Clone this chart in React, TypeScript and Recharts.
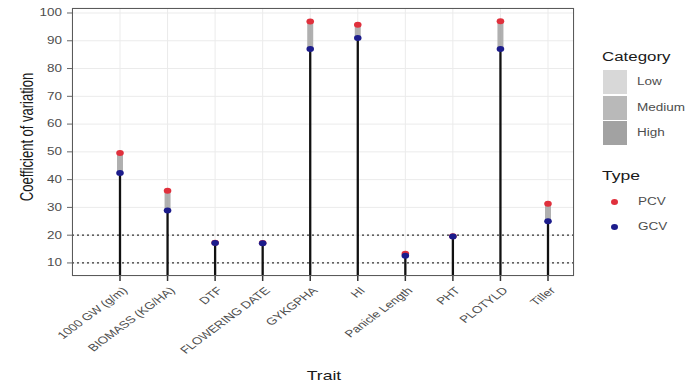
import React from 'react';
import {
  ComposedChart,
  Scatter,
  XAxis,
  YAxis,
  CartesianGrid,
  ReferenceLine,
} from 'recharts';

// Traits and coefficient of variation (%)
const traits = [
  '1000 GW (g/m)',
  'BIOMASS (KG/HA)',
  'DTF',
  'FLOWERING DATE',
  'GYKGPHA',
  'HI',
  'Panicle Length',
  'PHT',
  'PLOTYLD',
  'Tiller',
];
const pcv = [49.6, 36, 17.3, 17.2, 96.9, 95.8, 13.3, 19.6, 97, 31.3];
const gcv = [42.4, 28.9, 17.2, 17.1, 87, 91, 12.6, 19.5, 87, 25];
const category = ['High', 'High', 'Medium', 'Medium', 'High', 'High', 'Low', 'Medium', 'High', 'High'];

const yTicks = [10, 20, 30, 40, 50, 60, 70, 80, 90, 100];
const thresholds = [10, 20];
const yMin = 5.3;
const yMax = 101.8;

const categoryNames = ['Low', 'Medium', 'High'];
const categoryFill: Record<string, string> = {
  Low: '#d8d8d8',
  Medium: '#b9b9b9',
  High: '#a2a2a2',
};
const typeNames = ['PCV', 'GCV'];
const typeColor: Record<string, string> = { PCV: '#e0303c', GCV: '#1c1c8c' };

const data = traits.map((t, i) => ({ trait: t, pcv: pcv[i], gcv: gcv[i], cat: category[i] }));

// the source picture is stretched sideways, so text gets widened too
const SX = 1.35;
const font = 'Liberation Sans, Arial, sans-serif';

const XTick = ({ x, y, payload }: any) => {
  const ax = x + 1;
  const ay = y + 3;
  return (
    <text
      transform={`translate(${ax} ${ay}) scale(${SX} 1) rotate(-45)`}
      textAnchor="end"
      dominantBaseline="hanging"
      fill="#4d4d4d"
      fontSize={10}
      fontFamily={font}
    >
      {payload.value}
    </text>
  );
};

const YTick = ({ x, y, payload }: any) => (
  <text
    transform={`translate(${x - 3} ${y}) scale(${SX} 1)`}
    textAnchor="end"
    dominantBaseline="central"
    fill="#4d4d4d"
    fontSize={10}
    fontFamily={font}
  >
    {payload.value}
  </text>
);

const Dot = ({ cx, cy, fill }: any) =>
  cx == null ? null : <ellipse cx={cx} cy={cy} rx={3.8} ry={3} fill={fill} />;

const stretched = (cx: number, cy: number, size: number, color: string, text: string) => (
  <div
    key={text}
    style={{
      position: 'absolute',
      left: cx,
      top: cy,
      transform: `translateY(-50%) scaleX(${SX})`,
      transformOrigin: 'left center',
      fontSize: size,
      color,
      whiteSpace: 'nowrap',
      lineHeight: 1,
    }}
  >
    {text}
  </div>
);

export default function App() {
  return (
    <div
      style={{
        position: 'absolute',
        left: 0,
        top: 0,
        width: 696,
        height: 387,
        background: '#fff',
        fontFamily: font,
      }}
    >
      <ComposedChart
        width={696}
        height={387}
        data={data}
        margin={{ top: 8, right: 122, bottom: 21, left: 12 }}
      >
        <CartesianGrid stroke="#ebebeb" strokeWidth={1} />
        <XAxis
          dataKey="trait"
          type="category"
          padding={{ left: 48, right: 26 }}
          height={90}
          tick={<XTick />}
          tickLine={{ stroke: '#333', strokeWidth: 1.5 }}
          tickSize={5}
          axisLine={false}
          interval={0}
        />
        <YAxis
          type="number"
          domain={[yMin, yMax]}
          ticks={yTicks}
          allowDataOverflow
          width={60}
          tick={<YTick />}
          tickLine={{ stroke: '#666' }}
          tickSize={5}
          axisLine={false}
        />
        {thresholds.map((v) => (
          <ReferenceLine key={v} y={v} stroke="#333" strokeDasharray="2 3" strokeWidth={1.2} />
        ))}
        {data.map((d) => (
          <ReferenceLine
            key={`stem-${d.trait}`}
            segment={[
              { x: d.trait, y: yMin },
              { x: d.trait, y: d.gcv },
            ]}
            stroke="#111"
            strokeWidth={2.3}
          />
        ))}
        {data.map((d) => (
          <ReferenceLine
            key={`span-${d.trait}`}
            segment={[
              { x: d.trait, y: d.gcv },
              { x: d.trait, y: d.pcv },
            ]}
            stroke={categoryFill[d.cat]}
            strokeOpacity={0.85}
            strokeWidth={6}
          />
        ))}
        <Scatter dataKey="pcv" fill={typeColor.PCV} shape={<Dot />} isAnimationActive={false} />
        <Scatter dataKey="gcv" fill={typeColor.GCV} shape={<Dot />} isAnimationActive={false} />
      </ComposedChart>

      {/* panel border */}
      <div
        style={{
          position: 'absolute',
          left: 72,
          top: 8,
          width: 502,
          height: 268,
          border: '1px solid #5a5a5a',
          boxSizing: 'border-box',
          pointerEvents: 'none',
        }}
      />

      {/* axis titles */}
      <div
        style={{
          position: 'absolute',
          left: 27,
          top: 137,
          transform: `translate(-50%, -50%) scaleX(${SX}) rotate(-90deg)`,
          fontSize: 13,
          color: '#1a1a1a',
          whiteSpace: 'nowrap',
          lineHeight: 1,
        }}
      >
        Coefficient of variation
      </div>
      <div
        style={{
          position: 'absolute',
          left: 324,
          top: 375,
          transform: `translate(-50%, -50%) scaleX(${SX})`,
          fontSize: 13,
          color: '#1a1a1a',
          lineHeight: 1,
        }}
      >
        Trait
      </div>

      {/* legends */}
      {stretched(602, 57, 12.5, '#1a1a1a', 'Category')}
      {categoryNames.map((c, i) => (
        <div
          key={`sw-${c}`}
          style={{
            position: 'absolute',
            left: 603,
            top: 70 + i * 25.5,
            width: 24,
            height: 24,
            background: categoryFill[c],
          }}
        />
      ))}
      {categoryNames.map((c, i) => stretched(637, 82 + i * 25.5, 10, '#4d4d4d', c))}

      {stretched(602, 175, 13, '#1a1a1a', 'Type')}
      {typeNames.map((t, i) => (
        <div
          key={`pt-${t}`}
          style={{
            position: 'absolute',
            left: 611,
            top: 199 + i * 25,
            width: 7,
            height: 6,
            borderRadius: '50%',
            background: typeColor[t],
          }}
        />
      ))}
      {typeNames.map((t, i) => stretched(638, 202 + i * 25, 10, '#4d4d4d', t))}
    </div>
  );
}
